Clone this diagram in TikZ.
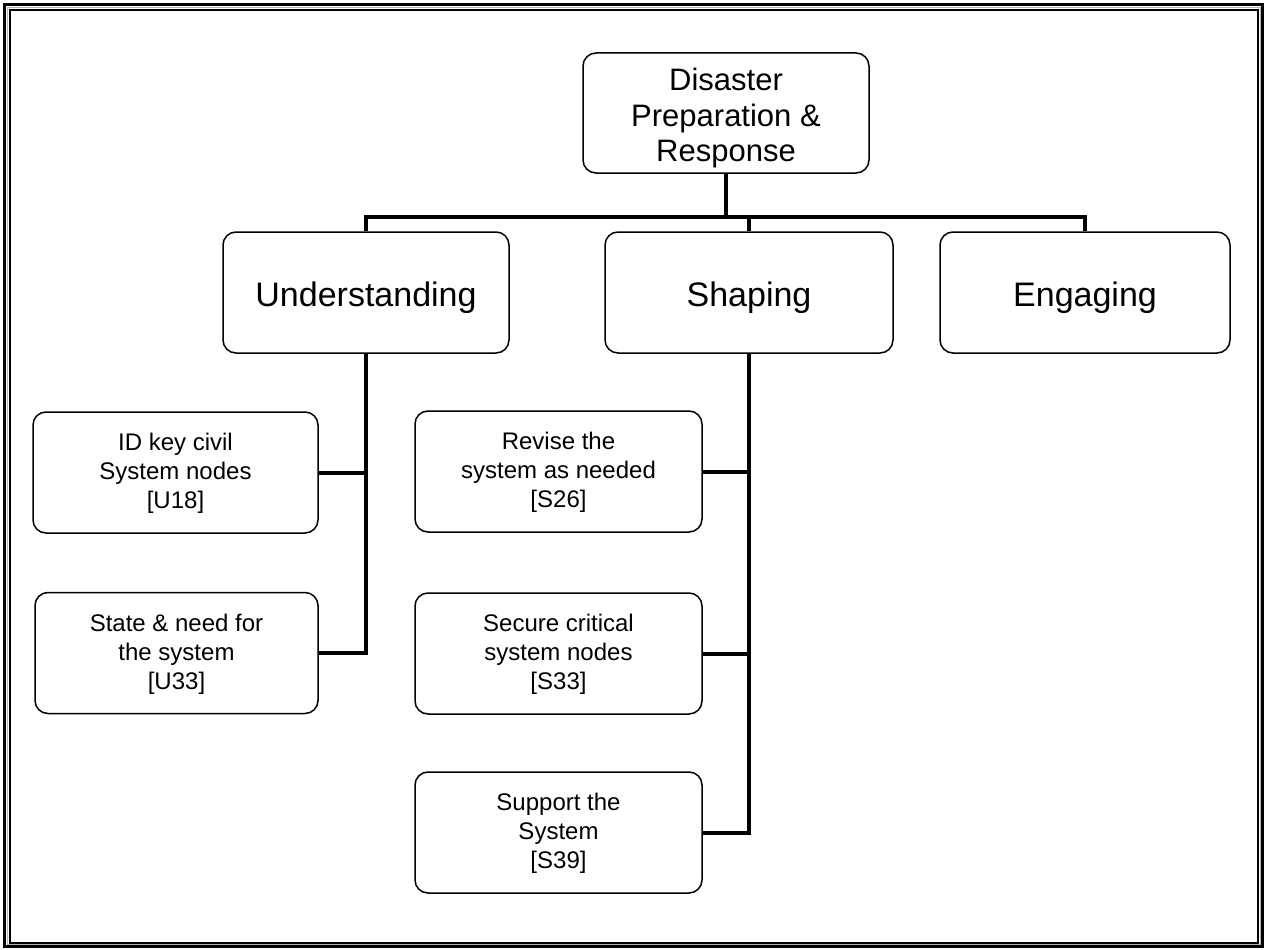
\documentclass[tikz,border=0pt]{standalone}
\usepackage{fontspec}
\setmainfont{Liberation Sans}
\newcommand{\lowtext}[2]{\raisebox{-#1}[\height][\depth]{\begin{tabular}{@{}c@{}}#2\end{tabular}}}
\begin{document}
\begin{tikzpicture}[x=1pt,y=-1pt,
  box/.style={draw=black, line width=1.5pt, rounded corners=13pt, fill=white,
    align=center, inner sep=0pt, minimum height=121pt},
  rootbox/.style={box, minimum width=286pt, minimum height=120pt,
    font=\fontsize{31}{35}\selectfont},
  topbox/.style={box, font=\fontsize{34}{40}\selectfont},
  subbox/.style={box, minimum width=286pt, font=\fontsize{24}{29}\selectfont},
  conn/.style={draw=black, line width=4pt, line join=miter}]
\useasboundingbox (0,0) rectangle (1266,950);
% frame
\draw[line width=2.5pt] (4.5,4.5) rectangle (1262.5,946.5);
\draw[line width=1pt, gray!60] (7.5,7.5) rectangle (1260,944.5);
\draw[line width=2.5pt] (10,10) rectangle (1258,943);
% nodes
\node[rootbox] (root) at (726,113) {\lowtext{6pt}{Disaster\\Preparation \&\\Response}};
\node[topbox, minimum width=286pt] (U) at (366,292.5) {\lowtext{6pt}{Understanding}};
\node[topbox, minimum width=288pt] (S) at (749,292.5) {\lowtext{6pt}{Shaping}};
\node[topbox, minimum width=290pt] (E) at (1085,292.5) {\lowtext{6pt}{Engaging}};
\node[subbox, minimum width=285pt] (U18) at (175.5,472.5) {\lowtext{1.5pt}{ID key civil\\System nodes\\{[U18]}}};
\node[subbox, minimum width=283pt] (U33) at (176.5,653) {\lowtext{1.5pt}{State \& need for\\the system\\{[U33]}}};
\node[subbox, minimum width=287pt] (S26) at (558.5,471.5) {\lowtext{1.5pt}{Revise the\\system as needed\\{[S26]}}};
\node[subbox, minimum width=287pt] (S33) at (558.5,653.5) {\lowtext{1.5pt}{Secure critical\\system nodes\\{[S33]}}};
\node[subbox, minimum width=287pt] (S39) at (558.5,832.5) {\lowtext{1.5pt}{Support the\\System\\{[S39]}}};
\coordinate (bus) at (726,217);
% connectors
\draw[conn] (root.south) -- (root.south |- bus);
\draw[conn] (U.north) -- (U.north |- bus) -- (E.north |- bus) -- (E.north);
\draw[conn] (S.north |- bus) -- (S.north);
\draw[conn] (U.south) -- (U.south |- U33.east) -- (U33.east);
\draw[conn] (U18.east) -- (U.south |- U18.east);
\draw[conn] (S.south) -- (S.south |- S39.east) -- (S39.east);
\draw[conn] (S26.east) -- (S.south |- S26.east);
\draw[conn] (S33.east) -- (S.south |- S33.east);
\end{tikzpicture}
\end{document}
